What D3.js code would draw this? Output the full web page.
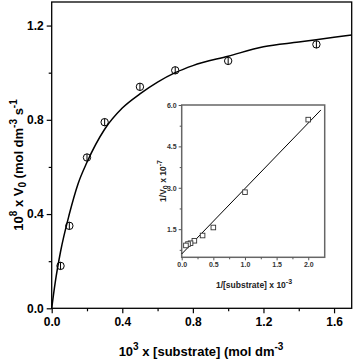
<!DOCTYPE html>
<html>
<head>
<meta charset="utf-8">
<script src="https://cdn.jsdelivr.net/npm/d3@7"></script>
<style>
  body { margin: 0; background: #fff; }
  svg { display: block; font-family: "Liberation Sans", Arial, sans-serif; font-weight: bold; }
</style>
</head>
<body>
<svg id="chart" width="354" height="361"></svg>
<script>
// main plot: initial rate vs substrate
var substrate = [0.05, 0.1, 0.2, 0.3, 0.5, 0.7, 1.0, 1.5];
var rate = [0.18, 0.35, 0.64, 0.79, 0.94, 1.01, 1.05, 1.12];
// fitted curve
var fitX = [0, 0.02, 0.05, 0.1, 0.15, 0.2, 0.3, 0.4, 0.5, 0.6, 0.7, 0.8, 1.0, 1.2, 1.4, 1.6, 1.7];
var fitY = [0, 0.11, 0.24, 0.40, 0.53, 0.62, 0.76, 0.85, 0.91, 0.96, 1.00, 1.03, 1.07, 1.11, 1.13, 1.15, 1.16];
var xTicks = [0.0, 0.4, 0.8, 1.2, 1.6];
var xMinor = [0.2, 0.6, 1.0, 1.4];
var yTicks = [0.0, 0.4, 0.8, 1.2];
var yMinor = [0.2, 0.6, 1.0];

// inset: Lineweaver-Burk
var invSubstrate = [2.0, 1.0, 0.5, 0.33, 0.2, 0.14, 0.1, 0.067];
var invRate = [5.47, 2.84, 1.56, 1.27, 1.08, 0.99, 0.96, 0.91];
var lineX = [0, 2.2];
var lineY = [0.6, 5.82];
var insetXTicks = [0.0, 0.5, 1.0, 1.5, 2.0];
var insetXMinor = [0.25, 0.75, 1.25, 1.75];
var insetYTicks = [1.5, 3.0, 4.5, 6.0];
var insetYMinor = [0.75, 2.25, 3.75, 5.25];

var svg = d3.select("#chart");

const main = {left: 51.7, right: 351.7, top: 2, bottom: 308.3}

var x = d3.scaleLinear().domain([0, 1.7]).range([main.left, main.right]);
var y = d3.scaleLinear().domain([0, 1.3]).range([main.bottom, main.top]);

// axes
svg.append("g")
    .attr("transform", "translate(0," + main.bottom + ")")
    .call(d3.axisBottom(x).tickValues(xMinor).tickSize(3).tickFormat(""));
svg.append("g")
    .attr("class", "xaxis")
    .attr("transform", "translate(0," + main.bottom + ")")
    .call(d3.axisBottom(x).tickValues(xTicks).tickSize(5).tickPadding(4).tickFormat(d3.format(".1f")));
svg.append("g")
    .attr("transform", "translate(" + main.left + ",0)")
    .call(d3.axisLeft(y).tickValues(yMinor).tickSize(3).tickFormat(""));
svg.append("g")
    .attr("class", "yaxis")
    .attr("transform", "translate(" + main.left + ",0)")
    .call(d3.axisLeft(y).tickValues(yTicks).tickSize(5).tickPadding(3).tickFormat(d3.format(".1f")));

svg.selectAll(".domain").remove();
svg.selectAll(".tick line").attr("stroke", "#000").attr("stroke-width", 1.2);
svg.selectAll(".tick text").attr("font-size", 12).attr("font-weight", "bold").attr("fill", "#000")
    .attr("font-family", "Liberation Sans, Arial, sans-serif");

svg.append("rect")
    .attr("x", main.left).attr("y", main.top)
    .attr("width", main.right - main.left).attr("height", main.bottom - main.top)
    .attr("fill", "none").attr("stroke", "#000").attr("stroke-width", 1.3);

// fitted curve
svg.append("path")
    .datum(fitX.map((d, i) => [d, fitY[i]]))
    .attr("fill", "none").attr("stroke", "#000").attr("stroke-width", 1.5)
    .attr("d", d3.line().x(d => x(d[0])).y(d => y(d[1])).curve(d3.curveMonotoneX));

// circle markers with a vertical bar
var pts = svg.selectAll("g.pt")
    .data(substrate.map((d, i) => [d, rate[i]])).enter()
    .append("g").classed("pt", true)
    .attr("transform", d => "translate(" + x(d[0]) + "," + y(d[1]) + ")");
pts.append("circle").attr("r", 3.7).attr("fill", "none").attr("stroke", "#000").attr("stroke-width", 1);
pts.append("line").attr("y1", -3.7).attr("y2", 3.7).attr("stroke", "#000").attr("stroke-width", 1);

// axis titles
var xt = svg.append("text").attr("x", 201).attr("y", 356).attr("text-anchor", "middle").attr("font-size", 13);
xt.append("tspan").text("10");
xt.append("tspan").attr("dy", -6).attr("font-size", 10).text("3");
xt.append("tspan").attr("dy", 6).text(" x [substrate] (mol dm");
xt.append("tspan").attr("dy", -6).attr("font-size", 10).text("-3");

var yt = svg.append("text").attr("transform", "translate(23,165) rotate(-90)").attr("text-anchor", "middle").attr("font-size", 13);
yt.append("tspan").text("10");
yt.append("tspan").attr("dy", -6).attr("font-size", 10).text("8");
yt.append("tspan").attr("dy", 6).text(" x V");
yt.append("tspan").attr("dy", 3).attr("font-size", 10).text("0");
yt.append("tspan").attr("dy", -3).text(" (mol dm");
yt.append("tspan").attr("dy", -6).attr("font-size", 10).text("-3");
yt.append("tspan").attr("dy", 6).text(" s");
yt.append("tspan").attr("dy", -6).attr("font-size", 10).text("-1");

// inset
const inset = {left: 181.7, right: 324.7, top: 105, bottom: 257.3}
var xi = d3.scaleLinear().domain([0, 2.26]).range([inset.left, inset.right]);
var yi = d3.scaleLinear().domain([0.48, 6.0]).range([inset.bottom, inset.top]);

var ig = svg.append("g").attr("class", "inset");
ig.append("rect")
    .attr("x", inset.left).attr("y", inset.top)
    .attr("width", inset.right - inset.left).attr("height", inset.bottom - inset.top)
    .attr("fill", "#fff").attr("stroke", "#666").attr("stroke-width", 1.5);

ig.append("g").attr("transform", "translate(0," + inset.bottom + ")")
    .call(d3.axisBottom(xi).tickValues(insetXMinor).tickSize(2).tickFormat(""));
ig.append("g").attr("transform", "translate(0," + inset.bottom + ")")
    .call(d3.axisBottom(xi).tickValues(insetXTicks).tickSize(3).tickPadding(2).tickFormat(d3.format(".1f")));
ig.append("g").attr("transform", "translate(" + inset.left + ",0)")
    .call(d3.axisLeft(yi).tickValues(insetYMinor).tickSize(2).tickFormat(""));
ig.append("g").attr("transform", "translate(" + inset.left + ",0)")
    .call(d3.axisLeft(yi).tickValues(insetYTicks).tickSize(3).tickPadding(2).tickFormat(d3.format(".1f")));
ig.selectAll(".domain").remove();
ig.selectAll(".tick line").attr("stroke", "#555").attr("stroke-width", 1);
ig.selectAll(".tick text").attr("font-size", 7).attr("font-weight", "bold").attr("fill", "#333")
    .attr("font-family", "Liberation Sans, Arial, sans-serif");

ig.append("path")
    .datum(lineX.map((d, i) => [d, lineY[i]]))
    .attr("fill", "none").attr("stroke", "#000").attr("stroke-width", 1)
    .attr("d", d3.line().x(d => xi(d[0])).y(d => yi(d[1])));

ig.selectAll("rect.sq")
    .data(invSubstrate.map((d, i) => [d, invRate[i]])).enter()
    .append("rect").classed("sq", true)
    .attr("x", d => xi(d[0]) - 2.3).attr("y", d => yi(d[1]) - 2.3)
    .attr("width", 4.6).attr("height", 4.6)
    .attr("fill", "#fff").attr("stroke", "#333").attr("stroke-width", 0.9);

var ixt = ig.append("text").attr("x", 254).attr("y", 288).attr("text-anchor", "middle").attr("font-size", 8.5).attr("fill", "#222");
ixt.append("tspan").text("1/[substrate] x 10");
ixt.append("tspan").attr("dy", -4).attr("font-size", 7).text("-3");

var iyt = ig.append("text").attr("transform", "translate(166,181) rotate(-90)").attr("text-anchor", "middle").attr("font-size", 8.5).attr("fill", "#222");
iyt.append("tspan").text("1/V");
iyt.append("tspan").attr("dy", 2).attr("font-size", 7).text("0");
iyt.append("tspan").attr("dy", -2).text(" x 10");
iyt.append("tspan").attr("dy", -4).attr("font-size", 7).text("-7");
</script>
</body>
</html>
